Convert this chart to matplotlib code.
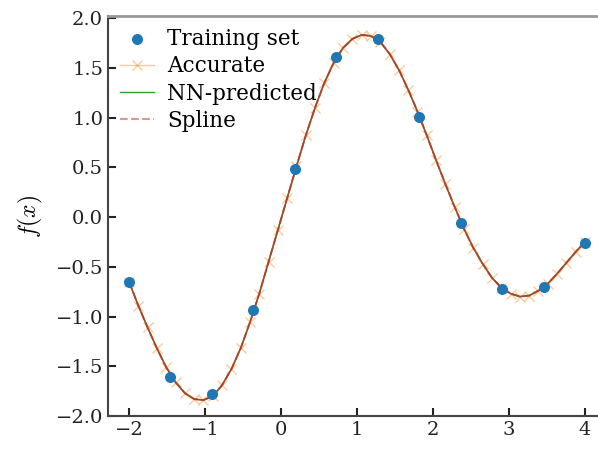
import numpy as np
import matplotlib
matplotlib.use("Agg")
import matplotlib.pyplot as plt

plt.rcParams['font.family'] = ['DejaVu Serif']
plt.rcParams['mathtext.fontset'] = 'cm'

# training samples
x_train = [-2.0, -1.455, -0.909, -0.364, 0.182, 0.727, 1.273, 1.818, 2.364, 2.909, 3.455, 4.0]
y_train = [-0.65, -1.61, -1.78, -0.93, 0.48, 1.61, 1.79, 1.01, -0.06, -0.72, -0.70, -0.26]

# accurate curve, 50 evenly spaced samples on [-2, 4]
x_acc = np.linspace(-2, 4, 50)
y_acc = [-0.65, -0.89, -1.11, -1.32, -1.51, -1.66, -1.77, -1.83, -1.84, -1.80,
         -1.69, -1.53, -1.32, -1.06, -0.77, -0.45, -0.13, 0.19, 0.51, 0.82,
         1.10, 1.35, 1.55, 1.70, 1.79, 1.83, 1.82, 1.76, 1.64, 1.48,
         1.28, 1.06, 0.82, 0.57, 0.33, 0.10, -0.12, -0.31, -0.47, -0.61,
         -0.71, -0.77, -0.80, -0.79, -0.74, -0.67, -0.57, -0.46, -0.35, -0.25]

# NN prediction and spline sit on top of the accurate curve
y_nn = list(y_acc)
y_spline = list(y_acc)

xticks = [-2, -1, 0, 1, 2, 3, 4]
yticks = [-2.0, -1.5, -1.0, -0.5, 0.0, 0.5, 1.0, 1.5, 2.0]

fig = plt.figure(figsize=(5.98, 4.51), dpi=100)
ax = fig.add_axes([0.1806, 0.0776, 0.8194, 0.8869])

ax.scatter(x_train, y_train, s=48, color='#1f77b4', zorder=4, label='Training set')
ax.plot(x_acc, y_acc, color='#ff7f0e', alpha=0.4, marker='x', markersize=7.5,
        linewidth=1.0, label='Accurate', zorder=2)
ax.plot(x_acc, y_nn, color='#2ca02c', linewidth=1.0, label='NN-predicted', zorder=3)
ax.plot(x_acc, y_spline, color='#d62728', linewidth=1.5, linestyle='--',
        alpha=0.5, label='Spline', zorder=3)
# the dashes over the green line read as a solid red-brown curve
ax.plot(x_acc, y_spline, color='#b3322a', linewidth=1.2, alpha=0.65, zorder=3)

ax.set_xlim(-2.276, 4.171)
ax.set_ylim(-2.0, 2.02)
ax.set_xticks(xticks)
ax.set_yticks(yticks)
ax.set_xticklabels([f'\u2212{abs(t)}' if t < 0 else str(t) for t in xticks])
ax.set_yticklabels([f'{t:.1f}'.replace('-', '\u2212') for t in yticks])
ax.tick_params(direction='in', length=6, width=1.5, labelsize=14, colors='#222222')
ax.set_ylabel('$f(x)$', fontsize=17, labelpad=8)

for side in ['left', 'bottom']:
    ax.spines[side].set_linewidth(1.5)
    ax.spines[side].set_color('#444444')
ax.spines['top'].set_linewidth(2.0)
ax.spines['top'].set_color('#999999')
ax.spines['right'].set_visible(False)

ax.legend(loc='upper left', frameon=False, fontsize=15.5, handlelength=1.6,
          handletextpad=0.6, labelspacing=0.25, borderaxespad=0.0,
          borderpad=0.55, bbox_to_anchor=(0.0, 1.0))

fig.savefig('out.png', dpi=100)
